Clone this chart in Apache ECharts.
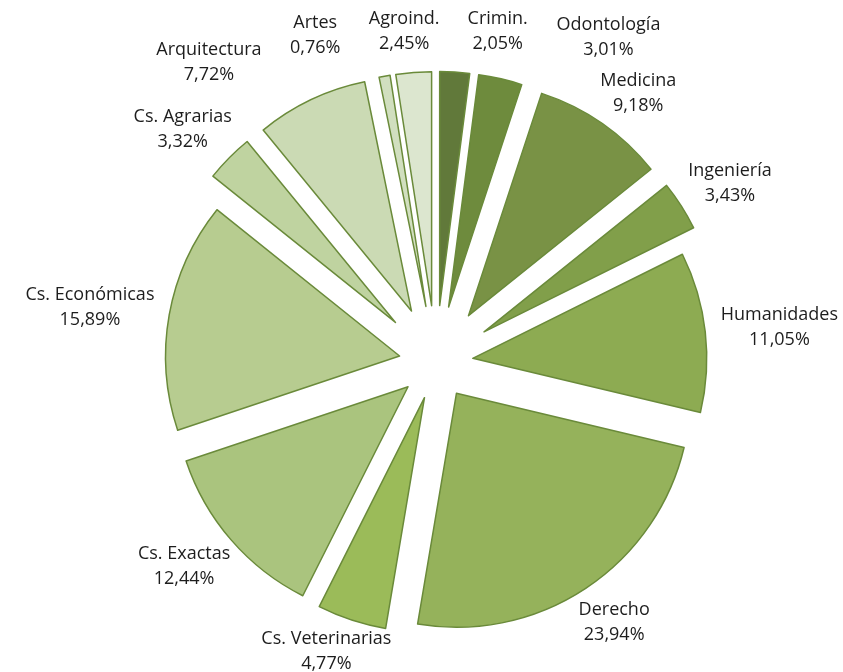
<!DOCTYPE html>
<html><head><meta charset="utf-8">
<script src="https://cdn.jsdelivr.net/npm/echarts@6/dist/echarts.min.js"></script>
<style>html,body{margin:0;padding:0;background:#fff}#c{width:843px;height:672px}</style>
</head><body><div id="c"></div>
<script>
// ---- data ----
const categories = ['Crimin.','Odontología','Medicina','Ingeniería','Humanidades','Derecho','Cs. Veterinarias','Cs. Exactas','Cs. Económicas','Cs. Agrarias','Arquitectura','Artes','Agroind.'];
const values = [2.05, 3.01, 9.18, 3.43, 11.05, 23.94, 4.77, 12.44, 15.89, 3.32, 7.72, 0.76, 2.45];

// ---- style ----
const colors = ['#61793a','#6e8b3d','#799245','#819f4a','#8dab52','#95b25b','#9bbb59','#aac47e','#b7cc90','#bfd3a0','#cbdab4','#d1dfbf','#dce6cf'];
const farExploded = new Set(['Crimin.','Odontología','Medicina','Ingeniería','Cs. Agrarias','Arquitectura','Artes','Agroind.']);
const W = 843, H = 672, CX = 436, CY = 362.5, R = 234, OFF_FAR = 57, OFF_NEAR = 37;
const GAP = 16, PADX = 14, PADY = 3, FONT = 18, LH = 25, FONTFAM = '"Open Sans"';
const BORDER = '#6a8a3a';

const pct = v => v.toFixed(2).replace('.', ',') + '%';

// ---- label layout (derived from the pie geometry; overlapping labels repel) ----
const total = values.reduce((a, b) => a + b, 0);
const mctx = document.createElement('canvas').getContext('2d');
mctx.font = FONT + 'px ' + FONTFAM;
let cum = 0;
const boxes = categories.map((n, i) => {
  const phi = (cum + values[i] / 2) / total * 2 * Math.PI;
  cum += values[i];
  const off = farExploded.has(n) ? OFF_FAR : OFF_NEAR;
  const w = Math.max(mctx.measureText(n).width, mctx.measureText(pct(values[i])).width);
  return { phi, phi0: phi, d: R + off + GAP, w, h: 2 * LH, dxs: 0 };
});
function place(b) {
  const dx = Math.sin(b.phi), dy = -Math.cos(b.phi);
  b.x = CX + b.d * dx + dx * b.w / 2 + b.dxs;
  b.y = CY + b.d * dy + dy * b.h / 2;
}
boxes.forEach(place);
const STEP = 0.002, TOPCOS = Math.cos(Math.PI / 6);
for (let it = 0; it < 3000; it++) {
  let moved = false;
  for (let i = 0; i < boxes.length; i++) for (let j = i + 1; j < boxes.length; j++) {
    const a = boxes[i], b = boxes[j];
    const ox = (a.w + b.w) / 2 + 2 * PADX - Math.abs(a.x - b.x);
    const oy = (a.h + b.h) / 2 + 2 * PADY - Math.abs(a.y - b.y);
    if (ox > 0 && oy > 0) {
      if (Math.cos(a.phi0) > TOPCOS && Math.cos(b.phi0) > TOPCOS) {
        const s = a.x < b.x ? -1 : 1;
        a.dxs += s * 0.5; b.dxs -= s * 0.5;
      } else {
        let diff = b.phi - a.phi;
        while (diff > Math.PI) diff -= 2 * Math.PI;
        while (diff < -Math.PI) diff += 2 * Math.PI;
        const s = diff >= 0 ? 1 : -1;
        a.phi -= s * STEP; b.phi += s * STEP;
      }
      place(a); place(b);
      moved = true;
    }
  }
  if (!moved) break;
}
boxes.forEach(b => {
  b.x = Math.min(Math.max(b.x, b.w / 2 + 2), W - b.w / 2 - 2);
  b.y = Math.min(Math.max(b.y, b.h / 2 + 2), H - b.h / 2 + 4);
});

const clear = { color: 'rgba(0,0,0,0)', borderWidth: 0 };
function sectorSeries(far) {
  return {
    type: 'pie', center: [CX, CY], radius: [0, R], startAngle: 90, clockwise: true,
    selectedMode: 'multiple', selectedOffset: far ? OFF_FAR : OFF_NEAR,
    silent: true, label: { show: false }, labelLine: { show: false },
    emphasis: { disabled: true },
    data: categories.map((n, i) => {
      const mine = farExploded.has(n) === far;
      const st = mine ? { color: colors[i], borderColor: BORDER, borderWidth: 1.5 } : clear;
      return { name: n, value: values[i], selected: mine, itemStyle: st, select: { itemStyle: st } };
    })
  };
}

const chart = echarts.init(document.getElementById('c'), null, { renderer: 'canvas' });
chart.setOption({
  animation: false,
  backgroundColor: '#ffffff',
  series: [
    sectorSeries(true),
    sectorSeries(false),
    {
      type: 'pie', center: [CX, CY], radius: [0, R], startAngle: 90, clockwise: true,
      silent: true, avoidLabelOverlap: false, emphasis: { disabled: true },
      itemStyle: clear,
      label: {
        show: true, position: 'outside', color: '#1d1d1d',
        fontFamily: FONTFAM, fontSize: FONT, lineHeight: LH,
        formatter: p => p.name + '\n' + pct(values[p.dataIndex])
      },
      labelLine: { show: false },
      labelLayout: p => {
        const b = boxes[p.dataIndex];
        return { x: b.x, y: b.y, align: 'center', verticalAlign: 'middle' };
      },
      data: categories.map((n, i) => ({ name: n, value: values[i] }))
    }
  ]
});
</script></body></html>
